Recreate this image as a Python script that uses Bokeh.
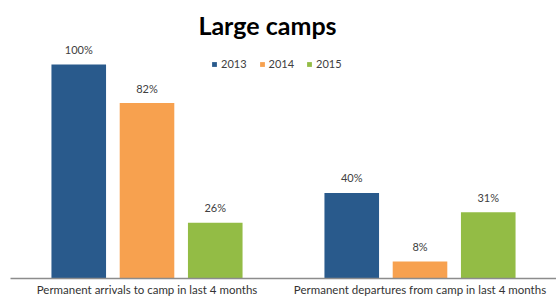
from bokeh.plotting import figure
from bokeh.models import ColumnDataSource, FactorRange, Range1d, Label, Legend, LegendItem
from bokeh.transform import dodge
from bokeh.core.properties import value
from bokeh.embed import file_html
from bokeh.resources import INLINE

categories = ["Permanent arrivals to camp in last 4 months",
              "Permanent departures from camp in last 4 months"]
years = ["2013", "2014", "2015"]
v2013 = [100, 40]
v2014 = [82, 8]
v2015 = [26, 31]
colors = ["#295a8c", "#f7a14f", "#93bc45"]
offsets = [-0.25, 0.0, 0.25]

FONT = "Lato"

p = figure(x_range=FactorRange(factors=categories), y_range=Range1d(0, 129.9),
           width=556, height=302, output_backend="svg", toolbar_location=None,
           min_border_left=10, min_border_right=0, min_border_top=0, min_border_bottom=24,
           outline_line_color=None, background_fill_color="white", border_fill_color="white")

src = ColumnDataSource(dict(cat=categories, v2013=v2013, v2014=v2014, v2015=v2015,
                            l2013=[f"{v}%" for v in v2013],
                            l2014=[f"{v}%" for v in v2014],
                            l2015=[f"{v}%" for v in v2015]))

items = []
for yr, col, off in zip(years, colors, offsets):
    r = p.vbar(x=dodge("cat", off, range=p.x_range), top="v" + yr, width=0.2,
               source=src, fill_color=col, line_color=None)
    items.append(LegendItem(label=yr, renderers=[r]))
    p.text(x=dodge("cat", off, range=p.x_range), y="v" + yr, text="l" + yr, source=src,
           text_align="center", text_baseline="middle", y_offset=-15,
           text_font=value(FONT), text_font_size="11px", text_color="#404040")

legend = Legend(items=items, orientation="horizontal", location=(201, 208),
                padding=0, margin=0, spacing=12, label_standoff=4,
                glyph_width=6, glyph_height=6, label_height=12,
                label_text_font=FONT, label_text_font_size="11px", label_text_color="#404040",
                background_fill_alpha=0, border_line_color=None)
p.add_layout(legend, "center")

title = Label(x=257, y=254, x_units="screen", y_units="screen", text="Large camps",
              text_align="center", text_baseline="middle",
              text_font=FONT, text_font_size="25px", text_font_style="bold", text_color="#000000")
p.add_layout(title)

p.yaxis.visible = False
p.xgrid.grid_line_color = None
p.ygrid.grid_line_color = None
p.xaxis.axis_line_color = "#8c8c8c"
p.xaxis.axis_line_width = 1.5
p.xaxis.major_tick_line_color = None
p.xaxis.minor_tick_line_color = None
p.xaxis.major_label_standoff = -2
p.xaxis.major_label_text_font = FONT
p.xaxis.major_label_text_font_size = "11.5px"
p.xaxis.major_label_text_color = "#333333"

open("out.html", "w").write(file_html(p, INLINE))
